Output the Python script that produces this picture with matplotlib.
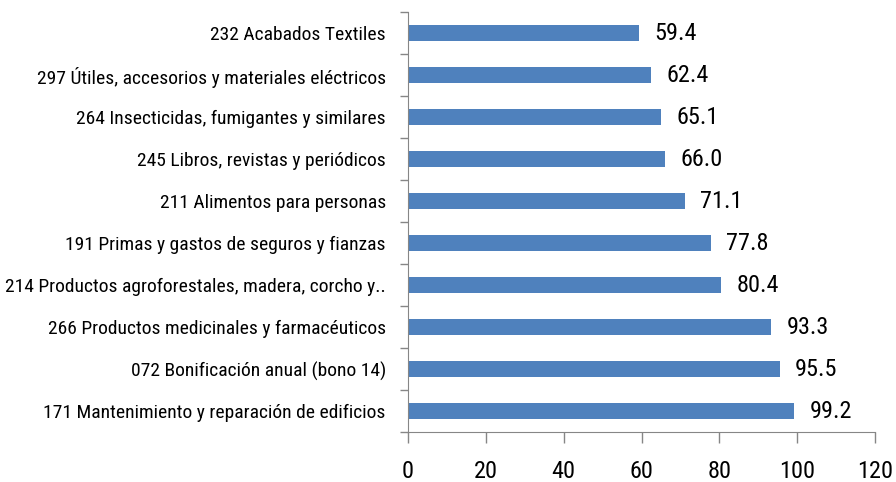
import matplotlib.pyplot as plt

categories = [
    '171 Mantenimiento y reparación de edificios',
    '072 Bonificación anual (bono 14)',
    '266 Productos medicinales y farmacéuticos',
    '214 Productos agroforestales, madera, corcho y..',
    '191 Primas y gastos de seguros y fianzas',
    '211 Alimentos para personas',
    '245 Libros, revistas y periódicos',
    '264 Insecticidas, fumigantes y similares',
    '297 Útiles, accesorios y materiales eléctricos',
    '232 Acabados Textiles',
]
values = [99.2, 95.5, 93.3, 80.4, 77.8, 71.1, 66.0, 65.1, 62.4, 59.4]
xticks = [0, 20, 40, 60, 80, 100, 120]

plt.rcParams['font.family'] = ['Roboto Condensed', 'DejaVu Sans']

fig = plt.figure(figsize=(8.96, 4.82), dpi=100)
ax = fig.add_axes([408 / 896, 1 - 432 / 482, 467 / 896, 420 / 482])

pos = list(range(len(categories)))
ax.barh(pos, values, height=0.4, color='#4F81BD')
for p, v in zip(pos, values):
    ax.text(v + 4, p, f'{v:.1f}', va='center', ha='left', fontsize=17.5)

ax.set_xlim(0, 120)
ax.set_ylim(-0.5, len(categories) - 0.5)
ax.set_xticks(xticks)
ax.set_xticklabels([str(t) for t in xticks], fontsize=17.5)
ax.set_yticks(pos)
ax.set_yticklabels(categories, fontsize=14)
ax.tick_params(axis='y', length=0, pad=16)
# category separators on the value axis
ax.set_yticks([p - 0.5 for p in pos] + [len(pos) - 0.5], minor=True)
ax.tick_params(axis='y', which='minor', length=6, color='#868686', width=1)
ax.tick_params(axis='x', length=8, color='#868686', width=1, pad=12)

for s in ['top', 'right']:
    ax.spines[s].set_visible(False)
for s in ['left', 'bottom']:
    ax.spines[s].set_color('#868686')

fig.savefig('out.png', dpi=100)
